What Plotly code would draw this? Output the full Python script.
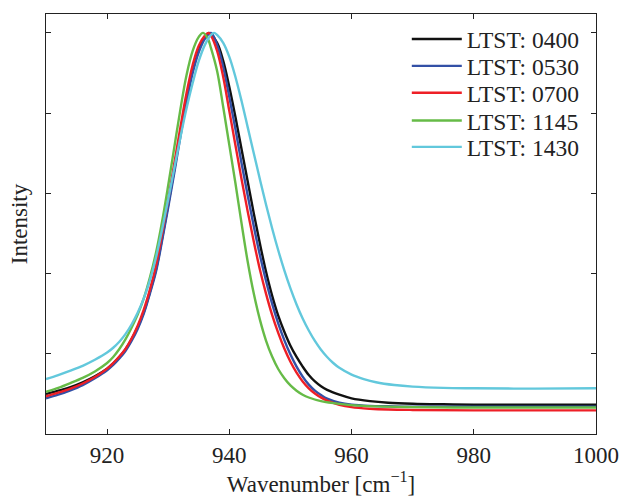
import plotly.graph_objects as go

# Normalised spectra sampled along the wavenumber axis (cm^-1)
wn_0400 = [910, 912, 914, 916, 918, 920, 921, 922, 923, 924, 925, 926, 927, 928, 929, 930, 931, 932, 933,
           934, 935, 936, 936.7, 938, 939, 940, 941, 942, 943, 944, 945, 946, 947, 948, 949, 950, 951,
           952, 953, 954, 955, 956, 958, 960, 963, 966, 970, 975, 980, 990, 1000]
int_0400 = [0.0995, 0.108, 0.117, 0.129, 0.144, 0.163, 0.176, 0.192, 0.211, 0.236, 0.266, 0.304, 0.354,
            0.41, 0.488, 0.572, 0.66, 0.75, 0.835, 0.908, 0.958, 0.99, 1.0,
            0.975, 0.93, 0.865, 0.79, 0.71, 0.63, 0.55, 0.475, 0.405, 0.345, 0.295, 0.255, 0.220, 0.192,
            0.168, 0.147, 0.131, 0.119, 0.110, 0.098, 0.089, 0.082, 0.078, 0.0755, 0.074, 0.073, 0.073, 0.073]

wn_0530 = [910, 912, 914, 916, 918, 920, 921, 922, 923, 924, 925, 926, 927, 928, 929, 930, 931, 932, 933,
           934, 935, 936, 937, 938, 939, 940, 941, 942, 943, 944, 945, 946, 947, 948, 949, 950, 951,
           952, 953, 954, 955, 956, 958, 960, 963, 966, 970, 980, 990, 1000]
int_0530 = [0.089, 0.098, 0.109, 0.122, 0.139, 0.159, 0.172, 0.188, 0.207, 0.232, 0.262, 0.30, 0.35,
            0.405, 0.482, 0.565, 0.652, 0.742, 0.828, 0.90, 0.952, 0.985, 1.0,
            0.97, 0.915, 0.84, 0.76, 0.675, 0.595, 0.518, 0.446, 0.382, 0.325, 0.276, 0.234, 0.198,
            0.168, 0.143, 0.123, 0.108, 0.097, 0.088, 0.078, 0.073, 0.070, 0.069, 0.068, 0.068, 0.068, 0.068]

wn_0700 = [910, 912, 914, 916, 918, 920, 921, 922, 923, 924, 925, 926, 927, 928, 929, 930, 931, 932, 933,
           934, 935, 936, 936.6, 937, 938, 939, 940, 941, 942, 943, 944, 945, 946, 947, 948, 949, 950,
           951, 952, 953, 954, 955, 956, 958, 960, 963, 966, 970, 980, 1000]
int_0700 = [0.094, 0.103, 0.113, 0.126, 0.142, 0.163, 0.177, 0.193, 0.212, 0.238, 0.27, 0.31, 0.36,
            0.42, 0.50, 0.585, 0.675, 0.765, 0.85, 0.92, 0.968, 0.993, 1.0,
            0.993, 0.955, 0.89, 0.805, 0.72, 0.635, 0.555, 0.48, 0.41, 0.35, 0.297, 0.252, 0.213, 0.18,
            0.153, 0.131, 0.114, 0.101, 0.091, 0.083, 0.073, 0.067, 0.063, 0.061, 0.060, 0.059, 0.059]

wn_1145 = [910, 912, 914, 916, 918, 920, 921, 922, 923, 924, 925, 926, 927, 928, 929, 930, 931, 932, 933,
           934, 935, 935.7, 936.5, 937, 938, 939, 940, 941, 942, 943, 944, 945, 946, 947, 948, 949, 950,
           951, 952, 953, 955, 958, 962, 970, 980, 990, 1000]
int_1145 = [0.105, 0.115, 0.127, 0.14, 0.156, 0.177, 0.192, 0.212, 0.236, 0.265, 0.298, 0.338, 0.39,
            0.452, 0.53, 0.62, 0.715, 0.81, 0.895, 0.955, 0.99, 1.0,
            0.985, 0.962, 0.905, 0.815, 0.72, 0.625, 0.525, 0.43, 0.35, 0.285, 0.233, 0.193, 0.162,
            0.139, 0.121, 0.108, 0.098, 0.091, 0.082, 0.075, 0.070, 0.067, 0.066, 0.066, 0.066]

wn_1430 = [910, 912, 914, 916, 918, 920, 921, 922, 923, 924, 925, 926, 927, 928, 929, 930, 931, 932, 933,
           934, 935, 936, 937, 937.5, 938, 939, 940, 941, 942, 943, 944, 945, 946, 947, 948, 949, 950,
           951, 952, 953, 954, 955, 956, 957, 958, 960, 962, 964, 967, 970, 975, 980, 990, 1000]
int_1430 = [0.137, 0.147, 0.158, 0.17, 0.185, 0.203, 0.215, 0.23, 0.249, 0.273, 0.302, 0.338, 0.383,
            0.44, 0.51, 0.585, 0.663, 0.74, 0.812, 0.875, 0.93, 0.97, 0.995, 1.0,
            0.995, 0.975, 0.94, 0.89, 0.83, 0.765, 0.70, 0.635, 0.572, 0.513, 0.458, 0.408, 0.363,
            0.323, 0.288, 0.258, 0.232, 0.21, 0.192, 0.177, 0.165, 0.148, 0.137, 0.129, 0.122, 0.118,
            0.115, 0.114, 0.113, 0.114]

series_names = ["LTST: 0400", "LTST: 0530", "LTST: 0700", "LTST: 1145", "LTST: 1430"]
series_x = [wn_0400, wn_0530, wn_0700, wn_1145, wn_1430]
series_y = [int_0400, int_0530, int_0700, int_1145, int_1430]
series_colors = ["#111111", "#3350a6", "#ee1f26", "#66bb47", "#62c8dc"]

x_ticks = [920, 940, 960, 980, 1000]
y_ticks = [0.2, 0.4, 0.6, 0.8, 1.0]

FONT = "Liberation Serif, Times New Roman, serif"
INK = "#222222"

# one single-entry legend per series so the rows sit close together
legend_rows_y = [0.940, 0.876, 0.812, 0.746, 0.683]

fig = go.Figure()
layout_legends = {}
for i, (name, xs, ys, col) in enumerate(zip(series_names, series_x, series_y, series_colors)):
    key = "legend" if i == 0 else f"legend{i + 1}"
    fig.add_trace(go.Scatter(
        x=xs, y=ys, name=name, mode="lines", legend=key,
        line=dict(color=col, width=2.4, shape="spline", smoothing=1.0),
    ))
    layout_legends[key] = dict(
        x=0.656, y=legend_rows_y[i], xanchor="left", yanchor="middle",
        bgcolor="rgba(255,255,255,0)", borderwidth=0,
        font=dict(family=FONT, size=23.5, color=INK),
        itemwidth=50,
    )

fig.update_layout(
    width=623, height=497,
    margin=dict(l=46, r=27, t=14, b=63, autoexpand=False),
    paper_bgcolor="white", plot_bgcolor="white",
    font=dict(family=FONT, size=23, color=INK),
    showlegend=True,
    **layout_legends,
)

fig.update_xaxes(
    range=[910, 1000], tickvals=x_ticks, ticktext=[str(v) for v in x_ticks],
    showgrid=False, zeroline=False, automargin=False,
    showline=True, linecolor=INK, linewidth=1.2, mirror="allticks",
    ticks="inside", ticklen=5, tickcolor=INK, tickwidth=1,
    tickfont=dict(family=FONT, size=23, color=INK),
    title=dict(text="Wavenumber [cm<sup>\u22121</sup>]", standoff=10,
               font=dict(family=FONT, size=23, color=INK)),
)
fig.update_yaxes(
    range=[0, 1.047], tickvals=y_ticks, showticklabels=False,
    showgrid=False, zeroline=False, automargin=False,
    showline=True, linecolor=INK, linewidth=1.2, mirror="allticks",
    ticks="inside", ticklen=5, tickcolor=INK, tickwidth=1,
    title=dict(text="Intensity", standoff=10,
               font=dict(family=FONT, size=23, color=INK)),
)

fig.write_html("out.html")
